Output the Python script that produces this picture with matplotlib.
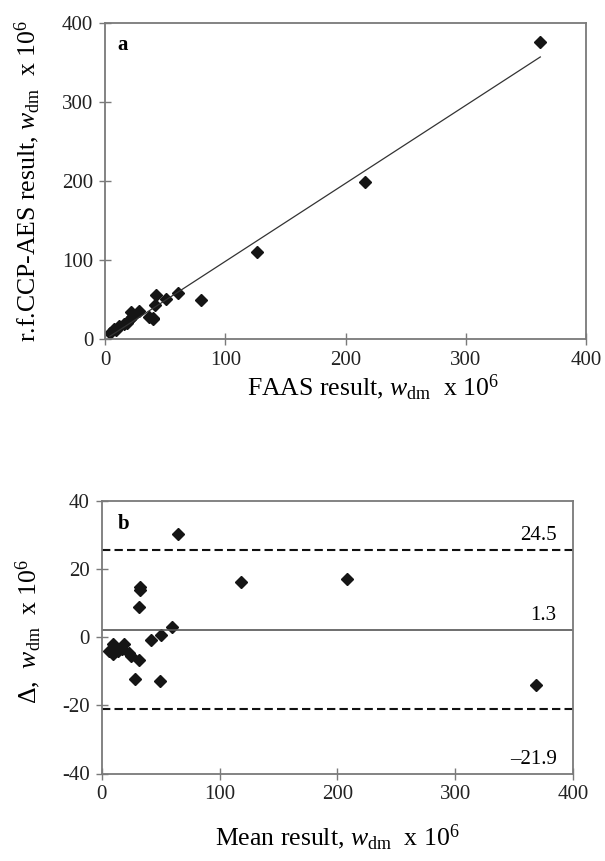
import numpy as np
import matplotlib
matplotlib.use("Agg")
import matplotlib.pyplot as plt

plt.rcParams['font.family'] = ['Liberation Serif', 'DejaVu Serif']
plt.rcParams['mathtext.fontset'] = 'custom'
plt.rcParams['mathtext.rm'] = 'Liberation Serif'
plt.rcParams['mathtext.it'] = 'Liberation Serif:italic'
plt.rcParams['mathtext.bf'] = 'Liberation Serif:bold'
plt.rcParams['axes.unicode_minus'] = False

# ---- Panel a data: FAAS vs r.f.CCP-AES ----
faas = [362, 216.5, 126, 79.5, 61, 51, 41.7, 42.6, 40.3, 39.8, 36.3, 28.4, 21.7,
        4, 9, 7.5, 12, 15.8, 18, 21.2, 22.2]
icp = [376, 199, 109.5, 49.5, 58.5, 50.2, 42.5, 55.5, 25.5, 26, 27.3, 35.2, 34.1,
       8, 11, 12.5, 16, 19.2, 20, 25.8, 27.8]

# ---- Panel b data: Bland-Altman ----
mean_res = [368.2, 208.2, 118.2, 64.7, 59.7, 50.6, 42.1, 49.1, 32.9, 32.9, 31.8, 31.8, 27.9,
            6, 10, 10, 14, 17.5, 19, 23.5, 25]
delta = [-13.9, 17.2, 16.1, 30.2, 3.1, 0.8, -0.8, -12.9, 14.8, 13.9, 9.0, -6.8, -12.4,
         -4, -2, -5, -4, -3.5, -2, -4.5, -5.5]
mean_line = 2.0
upper_line = 25.7
lower_line = -21.2
mean_label = "1.3"
upper_label = "24.5"
lower_label = "\u201321.9"

ticks_a = [0, 100, 200, 300, 400]
yticks_b = [-40, -20, 0, 20, 40]

W, H = 605, 861
fig = plt.figure(figsize=(W / 100, H / 100), dpi=100)

spine_col = '#7a7a7a'
mk_col = '#151515'
fs_tick = 15
fs_lab = 18.5


def style(ax):
    for s in ax.spines.values():
        s.set_color(spine_col)
        s.set_linewidth(1.3)
    ax.tick_params(direction='inout', length=9, width=1.0, color=spine_col,
                   labelsize=fs_tick, pad=4, labelcolor='#222222')


# Panel a
axa = fig.add_axes([105 / W, 1 - 339 / H, (586 - 105) / W, (339 - 23) / H])
style(axa)
axa.plot(faas, icp, linestyle='none', marker='D', markersize=5.8, color=mk_col)
coef = np.polyfit(faas, icp, 1)
xs = np.array([min(faas), max(faas)])
axa.plot(xs, np.polyval(coef, xs), color='#333333', lw=0.9)
axa.set_xlim(0, 400)
axa.set_ylim(0, 400)
axa.set_xticks(ticks_a)
axa.set_yticks(ticks_a)
axa.text(10, 372, 'a', fontsize=15, fontweight='bold', va='center', ha='left')
axa.set_xlabel(r'FAAS result, $w_{\mathrm{dm}}$  x 10$^{6}$', fontsize=fs_lab)
axa.xaxis.set_label_coords(0.557, -0.105)
axa.set_ylabel(r'r.f.CCP-AES result, $w_{\mathrm{dm}}$  x 10$^{6}$', fontsize=fs_lab)
axa.yaxis.set_label_coords(-0.13, 0.5)

# Panel b
axb = fig.add_axes([101.7 / W, 1 - 773.5 / H, (573 - 101.7) / W, (773.5 - 501) / H])
style(axb)
axb.plot(mean_res, delta, linestyle='none', marker='D', markersize=5.8, color=mk_col)
axb.axhline(mean_line, color='#555555', lw=1.2)
axb.axhline(upper_line, color='#111111', lw=1.5, dashes=(4, 2))
axb.axhline(lower_line, color='#111111', lw=1.5, dashes=(4, 2))
axb.set_xlim(0, 400)
axb.set_ylim(-40, 40)
axb.set_xticks(ticks_a)
axb.set_yticks(yticks_b)
axb.text(386, upper_line + 1.5, upper_label, fontsize=15, ha='right', va='bottom')
axb.text(386, mean_line + 1.5, mean_label, fontsize=15, ha='right', va='bottom')
axb.text(386, -35.8, lower_label, fontsize=15, ha='right', va='center')
axb.text(14, 33.2, 'b', fontsize=15, fontweight='bold', va='center', ha='left')
axb.set_xlabel(r'Mean result, $w_{\mathrm{dm}}$  x 10$^{6}$', fontsize=fs_lab, labelpad=13)
axb.set_ylabel(r'$\Delta$,  $w_{\mathrm{dm}}$  x 10$^{6}$', fontsize=fs_lab)
axb.yaxis.set_label_coords(-0.125, 0.52)

fig.savefig('out.png', dpi=100)
